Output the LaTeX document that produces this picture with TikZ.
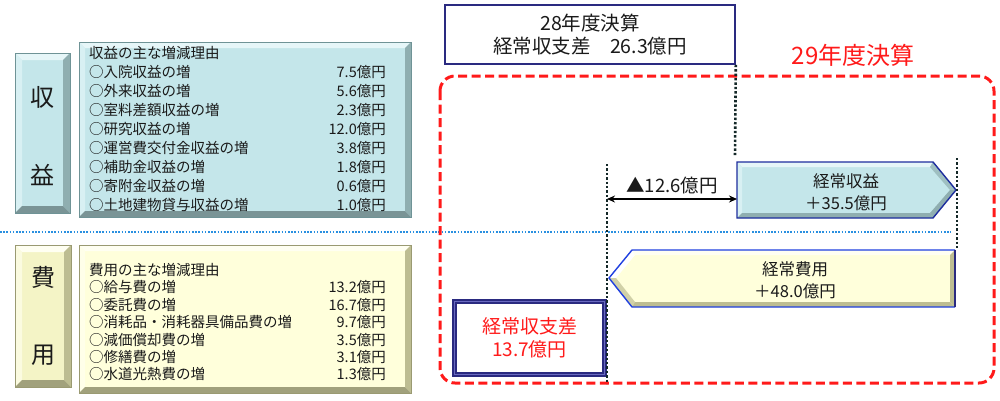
\documentclass[tikz,border=0pt]{standalone}
\usepackage{fontspec}
\setmainfont{Noto Sans CJK JP}
\usetikzlibrary{arrows.meta,calc}
\definecolor{txt}{HTML}{1A1A1A}
\definecolor{cyM}{HTML}{C4E6EA}
\definecolor{cyL}{HTML}{E6F6F8}
\definecolor{cyD}{HTML}{8FAEB0}
\definecolor{cyB}{HTML}{6F9396}
\definecolor{yeM}{HTML}{FFFFDB}
\definecolor{yeL}{HTML}{FFFFF2}
\definecolor{yeD}{HTML}{BDBD92}
\definecolor{yeB}{HTML}{9A9A72}
\definecolor{yeLab}{HTML}{F4F4C6}
\definecolor{navy}{HTML}{2A2A80}
\definecolor{navymid}{HTML}{6A6AC0}
\definecolor{arrB}{HTML}{1E2E9E}
\definecolor{arrB2}{HTML}{2040E0}
\definecolor{dotc}{HTML}{142828}
\definecolor{bluedot}{HTML}{2A90E0}
\definecolor{redc}{HTML}{FF1A1A}
% bevelled box: x1 y1 x2 y2 bevel main light dark border
\newcommand{\bvbox}[9]{%
  \fill[#6] (#1,#2) rectangle (#3,#4);
  \fill[#7] (#1,#2) -- (#3,#2) -- (#3-#5,#2+#5) -- (#1+#5,#2+#5) -- cycle;
  \fill[#7!60!#6] (#1,#2) -- (#1+#5,#2+#5) -- (#1+#5,#4-#5) -- (#1,#4) -- cycle;
  \fill[#8] (#3,#2) -- (#3,#4) -- (#3-#5,#4-#5) -- (#3-#5,#2+#5) -- cycle;
  \fill[#8!85!black] (#1,#4) -- (#3,#4) -- (#3-#5,#4-#5) -- (#1+#5,#4-#5) -- cycle;
  \draw[#9, line width=0.8] (#1,#2) rectangle (#3,#4);
}
\begin{document}
\begin{tikzpicture}[x=1pt,y=-1pt,
  every node/.style={inner sep=0pt, text=txt},
  listfont/.style={font=\fontsize{14.5}{17}\selectfont},
  labfont/.style={font=\fontsize{24}{26}\selectfont},
  midfont/.style={font=\fontsize{19.5}{23}\selectfont, align=center},
  arrfont/.style={font=\fontsize{16.5}{22}\selectfont, align=center},
  dotline/.style={draw=dotc, line width=2.6, dash pattern=on 2.4 off 2.0},
  bluedotline/.style={draw=bluedot, line width=1.6, dash pattern=on 1.6 off 1.6},
  reddash/.style={draw=redc, line width=3, dash pattern=on 9 off 4.5, rounded corners=15}]
\useasboundingbox[fill=white] (0,0) rectangle (1000,400);

% ---------- left: revenue ----------
\bvbox{15}{53}{70}{213}{7}{cyM}{cyL}{cyD}{cyB}
\node[labfont] (labA) at (42.5,97) {収};
\node[labfont] (labB) at (42.5,175) {益};
\bvbox{79}{42}{411}{217}{6}{cyM}{cyL}{cyD}{cyB}
\node[listfont, anchor=west] (rh) at (89,53) {収益の主な増減理由};
\foreach \t/\v [count=\i] in {入院収益の増/7.5億円, 外来収益の増/5.6億円, 室料差額収益の増/2.3億円, 研究収益の増/12.0億円, 運営費交付金収益の増/3.8億円, 補助金収益の増/1.8億円, 寄附金収益の増/0.6億円, 土地建物貸与収益の増/1.0億円}{
  \node[listfont, anchor=west] (rv\i) at (89,{53+19*\i}) {○\t};
  \node[listfont, anchor=east] (ra\i) at (386,{53+19*\i}) {\v};
}

% ---------- left: expense ----------
\bvbox{15}{245}{71}{387}{7}{yeLab}{yeL}{yeD}{yeB}
\node[labfont] (labC) at (43,277) {費};
\node[labfont] (labD) at (43,355) {用};
\bvbox{79}{245}{411}{393}{6}{yeM}{yeL}{yeD}{yeB}
\node[listfont, anchor=west] (eh) at (89,270) {費用の主な増減理由};
\foreach \t/\v [count=\i] in {給与費の増/13.2億円, 委託費の増/16.7億円, 消耗品・消耗器具備品費の増/9.7億円, 減価償却費の増/3.5億円, 修繕費の増/3.1億円, 水道光熱費の増/1.3億円}{
  \node[listfont, anchor=west] (ev\i) at (89,{270+17.4*\i}) {○\t};
  \node[listfont, anchor=east] (ea\i) at (386,{270+17.4*\i}) {\v};
}

% ---------- separator ----------
\coordinate (sepL) at (0,232);
\coordinate (sepR) at (951,232);
\draw[bluedotline] (sepL) -- (sepR);

% ---------- right: frame ----------
\draw[reddash] (440,76) rectangle (994,383);
\node[font=\fontsize{24}{26}\selectfont, text=redc] (t29) at (853,55) {29年度決算};

\node[draw=navy, line width=1.6, fill=white, minimum width=290, minimum height=59, midfont] (prev) at (590,34.5) {28年度決算\\経常収支差　26.3億円};

% revenue arrow (pointing right)
\fill[cyM] (737,162) -- (933,162) -- (956,190) -- (933,218) -- (737,218) -- cycle;
\fill[cyL] (737,162) -- (933,162) -- (930,167) -- (742,167) -- cycle;
\fill[cyL!60!cyM] (737,162) -- (742,167) -- (742,213) -- (737,218) -- cycle;
\fill[cyD!70!cyM] (933,162) -- (956,190) -- (950,190) -- (930,167) -- cycle;
\fill[cyD] (956,190) -- (933,218) -- (930,213) -- (950,190) -- cycle;
\fill[cyD] (933,218) -- (737,218) -- (742,213) -- (930,213) -- cycle;
\draw[arrB, line width=1.4, line join=miter] (737,162) -- (933,162) -- (956,190) -- (933,218) -- (737,218) -- cycle;
\node[arrfont] (rev) at (846,192.5) {経常収益\\＋35.5億円};

% expense arrow (pointing left)
\fill[yeM] (609,278) -- (632,250) -- (955,250) -- (955,307) -- (632,307) -- cycle;
\fill[white] (609,278) -- (632,250) -- (635,255) -- (616,278) -- cycle;
\fill[yeL] (632,250) -- (955,250) -- (950,255) -- (635,255) -- cycle;
\fill[yeD!70!yeM] (609,278) -- (616,278) -- (635,302) -- (632,307) -- cycle;
\fill[yeD] (632,307) -- (955,307) -- (950,302) -- (635,302) -- cycle;
\fill[yeD] (955,250) -- (955,307) -- (950,302) -- (950,255) -- cycle;
\draw[arrB2, line width=1.4, line join=miter] (955,307) -- (632,307) -- (609,278) -- (632,250) -- (955,250);
\draw[navy, line width=1.4] (955,250) -- (955,307);
\node[arrfont] (exp) at (795,280) {経常費用\\＋48.0億円};

% result box
\node[draw=navy, line width=1.6, double=navymid, double distance=1.4, fill=white, minimum width=150, minimum height=73, font=\fontsize{19}{23}\selectfont, align=center, text=redc] (diff) at (529.5,338) {経常収支差\\13.7億円};

% ---------- dotted guides ----------
\coordinate (g28) at (735,156);
\draw[dotline] (prev.south east) -- (g28);
\coordinate (gTop) at (607,164);
\coordinate (gMid) at (607,199);
\coordinate (gBot) at (607,384);
\draw[dotline] (gTop) -- (gBot);
\coordinate (rTop) at (957,158);
\coordinate (rBot) at (957,250);
\draw[dotline] (rTop) -- (rBot);

% ---------- difference arrow ----------
\coordinate (revL) at (737,199);
\draw[{Stealth[length=8,width=7]}-{Stealth[length=8,width=7]}, line width=1.8, black] (gMid) -- (revL);
\node[font=\fontsize{18.5}{20}\selectfont] (dlab) at (672,185) {▲12.6億円};
\end{tikzpicture}
\end{document}
